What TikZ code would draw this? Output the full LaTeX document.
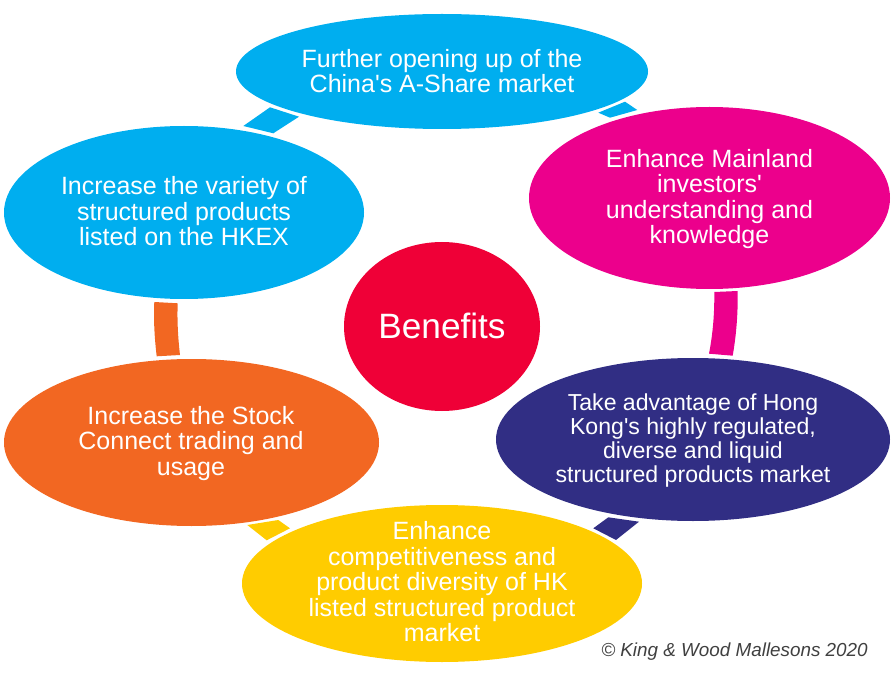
\documentclass[tikz,border=0pt]{standalone}
\usepackage{fontspec}
\setmainfont{Liberation Sans}[Ligatures=TeXOff]
\usetikzlibrary{shapes.geometric}
\definecolor{cblue}{HTML}{00AEEF}
\definecolor{cpink}{HTML}{EC008C}
\definecolor{cpurple}{HTML}{312E84}
\definecolor{cyellow}{HTML}{FFCC00}
\definecolor{corange}{HTML}{F26722}
\definecolor{cred}{HTML}{EF0037}
\tikzset{
  petal/.style={ellipse,inner sep=0pt,outer sep=0pt},
  caption/.style={inner sep=0pt,outer sep=0pt,text=white,align=center,
    font=\fontsize{25}{25.5}\selectfont}
}
\begin{document}
\begin{tikzpicture}[x=1pt,y=-1pt]
\useasboundingbox (0,0) rectangle (894,676);
\node[petal,fill=cblue,minimum width=412pt,minimum height=115pt] (top) at (442,71.5) {};
\node[petal,fill=cpink,minimum width=361pt,minimum height=182pt] (pink) at (709.5,198) {};
\node[petal,fill=cpurple,minimum width=394pt,minimum height=163pt] (purple) at (693,439.5) {};
\node[petal,fill=cyellow,minimum width=400pt,minimum height=157pt] (yellow) at (442,583.5) {};
\node[petal,fill=corange,minimum width=375pt,minimum height=167pt] (orange) at (191.5,442.5) {};
\node[petal,fill=cblue,minimum width=360pt,minimum height=173pt] (blue) at (184,212.5) {};
\node[petal,fill=cred,minimum width=196pt,minimum height=169pt] (centre) at (442,326.5) {};
\node[caption] (toptext) at (442,71) {Further opening up of the\\China's A-Share market};
\node[caption] (pinktext) at (709.5,199) {Enhance Mainland\\investors'\\understanding and\\knowledge};
\node[caption,font=\fontsize{23.1}{23.7}\selectfont] (purpletext) at (693,440.5) {Take advantage of Hong\\Kong's highly regulated,\\diverse and liquid\\structured products market};
\node[caption] (yellowtext) at (442,582) {Enhance\\competitiveness and\\product diversity of HK\\listed structured product\\market};
\node[caption] (orangetext) at (191,443.5) {Increase the Stock\\Connect trading and\\usage};
\node[caption] (bluetext) at (184,211.5) {Increase the variety of\\structured products\\listed on the HKEX};
\node[caption,font=\fontsize{35.2}{38}\selectfont] (centretext) at (442,326) {Benefits};
\node[font=\itshape\fontsize{18.85}{20}\selectfont,text=black!75,inner sep=0pt] (copy) at (734.5,652) {© King \& Wood Mallesons 2020};
% connector pieces
\coordinate (a1) at (270,107.3); \coordinate (a2) at (299,116.7); \coordinate (a3) at (273.3,133.3); \coordinate (a4) at (243.3,126);
\fill[cblue] (a1) -- (a2) -- (a3) -- (a4) -- cycle;
\coordinate (b1) at (625,101.7); \coordinate (b2) at (637.3,110); \coordinate (b3) at (610,117.7); \coordinate (b4) at (598.3,112.7);
\fill[cblue] (b1) -- (b2) -- (b3) -- (b4) -- cycle;
\coordinate (c1) at (714.3,292); \coordinate (c2) at (737.7,291); \coordinate (c3) at (732.7,355.7); \coordinate (c4) at (709,353.7);
\fill[cpink] (c1) .. controls (714.5,313) and (713,333) .. (c4) -- (c3) .. controls (736.5,334) and (738,312) .. (c2) -- cycle;
\coordinate (d1) at (608.3,517.3); \coordinate (d2) at (639,521.7); \coordinate (d3) at (616,540); \coordinate (d4) at (593.3,528.3);
\fill[cpurple] (d1) -- (d2) -- (d3) -- (d4) -- cycle;
\coordinate (e1) at (247.3,525); \coordinate (e2) at (278.3,520); \coordinate (e3) at (290,528.3); \coordinate (e4) at (266.7,540.3);
\fill[cyellow] (e1) -- (e2) -- (e3) -- (e4) -- cycle;
\coordinate (f1) at (154.3,302); \coordinate (f2) at (177.7,303.3); \coordinate (f3) at (180,355); \coordinate (f4) at (156.7,356.3);
\fill[corange] (f1) .. controls (153.5,320) and (154.5,338) .. (f4) -- (f3) .. controls (178,338) and (177,320) .. (f2) -- cycle;
\end{tikzpicture}
\end{document}
